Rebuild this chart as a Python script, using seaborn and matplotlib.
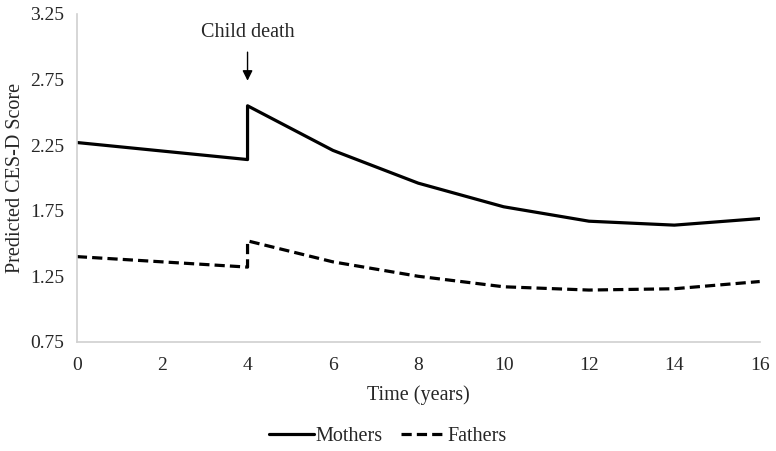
import pandas as pd
import matplotlib
matplotlib.use('Agg')
import matplotlib.pyplot as plt
import seaborn as sns

# values (year 4 appears twice: before / after the death)
years = [0, 4, 4, 6, 8, 10, 12, 14, 16]
mothers = [2.27, 2.14, 2.55, 2.21, 1.96, 1.78, 1.67, 1.64, 1.69]
fathers = [1.40, 1.32, 1.52, 1.36, 1.25, 1.17, 1.145, 1.155, 1.21]

df = pd.DataFrame({
    'year': years * 2,
    'score': mothers + fathers,
    'parent': ['Mothers'] * len(years) + ['Fathers'] * len(years),
})

sns.set_style('white')
plt.rcParams['font.family'] = ['Liberation Serif', 'DejaVu Serif']

fig, ax = plt.subplots(figsize=(7.76, 4.51), dpi=100)
fig.subplots_adjust(left=0.099, right=0.979, top=0.969, bottom=0.242)

sns.lineplot(data=df, x='year', y='score', hue='parent', style='parent',
             palette={'Mothers': 'black', 'Fathers': 'black'},
             dashes={'Mothers': '', 'Fathers': (3.2, 1.6)},
             estimator=None, sort=False, units='parent', linewidth=2.3,
             ax=ax, legend=False)

ax.set_xlim(0, 16)
ax.set_ylim(0.75, 3.25)
ax.set_xticks(range(0, 17, 2))
ax.set_yticks([0.75, 1.25, 1.75, 2.25, 2.75, 3.25])
ax.set_yticklabels(['0.75', '1.25', '1.75', '2.25', '2.75', '3.25'])
ax.tick_params(axis='both', labelsize=14, length=0)
ax.tick_params(axis='x', pad=11)
ax.tick_params(axis='y', pad=9)
ax.set_xlabel('Time (years)', fontsize=14.5, labelpad=8)
ax.set_ylabel('Predicted CES-D Score', fontsize=14.5, labelpad=4)

for side in ['top', 'right']:
    ax.spines[side].set_visible(False)
for side in ['left', 'bottom']:
    ax.spines[side].set_color('#d0d0d0')
    ax.spines[side].set_linewidth(1.2)

ax.annotate('', xy=(4, 2.72), xytext=(4, 2.98),
            arrowprops=dict(arrowstyle='-|>', color='black', lw=1, mutation_scale=15))
ax.text(4, 3.11, 'Child death', ha='center', va='center', fontsize=14.5)

handles = [plt.Line2D([], [], color='black', lw=2.3),
           plt.Line2D([], [], color='black', lw=2.3, dashes=(3.2, 1.6))]
fig.legend(handles, ['Mothers', 'Fathers'], loc='center', bbox_to_anchor=(0.5, 0.032),
           ncol=2, frameon=False, fontsize=14.5, handlelength=2.2, handletextpad=0.1,
           columnspacing=0.9)

fig.savefig('out.png', dpi=100)
